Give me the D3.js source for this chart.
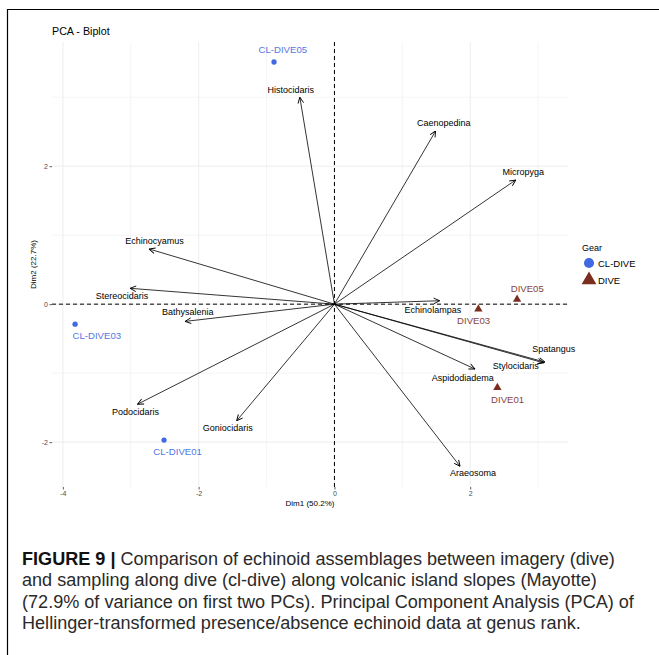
<!DOCTYPE html>
<html><head><meta charset="utf-8">
<script src="https://cdn.jsdelivr.net/npm/d3@7"></script>
<style>body{margin:0;background:#fff}svg{display:block}</style>
</head><body><svg id="c" width="659" height="655"></svg>
<script>
// ---- data ----
const variables = ["Histocidaris","Caenopedina","Micropyga","Echinocyamus","Stereocidaris","Bathysalenia","Podocidaris","Goniocidaris","Echinolampas","Spatangus","Stylocidaris","Aspidodiadema","Araeosoma"];
const varDim1 = [-0.51, 1.49, 2.67, -2.73, -3.01, -2.20, -2.90, -1.44, 1.55, 3.10, 3.08, 2.07, 1.85];
const varDim2 = [3.00, 2.51, 1.80, 0.80, 0.23, -0.25, -1.45, -1.69, 0.05, -0.84, -0.85, -0.94, -2.35];
const varLabelDim1 = [-0.645, 1.61, 2.78, -2.65, -3.13, -2.16, -2.93, -1.57, 1.45, 3.23, 2.67, 1.89, 2.04];
const varLabelDim2 = [3.10, 2.62, 1.91, 0.92, 0.12, -0.12, -1.57, -1.79, -0.08, -0.65, -0.89, -1.07, -2.45];

const sites = ["CL-DIVE05","CL-DIVE03","CL-DIVE01","DIVE05","DIVE03","DIVE01"];
const siteGear = ["CL-DIVE","CL-DIVE","CL-DIVE","DIVE","DIVE","DIVE"];
const siteDim1 = [-0.89, -3.82, -2.51, 2.69, 2.12, 2.40];
const siteDim2 = [3.51, -0.29, -1.97, 0.07, -0.07, -1.21];
const siteLabelDim1 = [-0.76, -3.50, -2.31, 2.84, 2.05, 2.55];
const siteLabelDim2 = [3.69, -0.46, -2.14, 0.23, -0.24, -1.38];

const gears = ["CL-DIVE","DIVE"];
const xTicks = [-4, -2, 0, 2];
const yTicks = [-2, 0, 2];
const xMinor = [-3, -1, 1, 3];
const yMinor = [-1, 1, 3];
const captionLines = [
  ["FIGURE 9 | ", "Comparison of echinoid assemblages between imagery (dive)"],
  ["", "and sampling along dive (cl-dive) along volcanic island slopes (Mayotte)"],
  ["", "(72.9% of variance on first two PCs). Principal Component Analysis (PCA) of"],
  ["", "Hellinger-transformed presence/absence echinoid data at genus rank."]
];

// ---- drawing ----
const svg = d3.select("#c");
const F = "'Liberation Sans', Arial, Helvetica, sans-serif";
const L = 52, R = 568, T = 42, B = 487;
const x = d3.scaleLinear().domain([-4.16, 3.44]).range([L, R]);
const y = d3.scaleLinear().domain([-2.65, 3.80]).range([B, T]);
const color = d3.scaleOrdinal().domain(gears).range(["#4169E1", "#7B2E1F"]);
const shape = d3.scaleOrdinal().domain(gears).range([d3.symbolCircle, d3.symbolTriangle]);

// border
svg.append("path").attr("d", "M7.5,660 V9.5 H670").attr("fill", "none").attr("stroke", "#000").attr("stroke-width", 1.2);

// grid
const g = svg.append("g");
g.selectAll(".vmin").data(xMinor).join("line").attr("x1", d => x(d)).attr("x2", d => x(d)).attr("y1", T).attr("y2", B).attr("stroke", "#efefef").attr("stroke-width", 0.6);
g.selectAll(".hmin").data(yMinor).join("line").attr("x1", L).attr("x2", R).attr("y1", d => y(d)).attr("y2", d => y(d)).attr("stroke", "#efefef").attr("stroke-width", 0.6);
g.selectAll(".vmaj").data(xTicks).join("line").attr("x1", d => x(d)).attr("x2", d => x(d)).attr("y1", T).attr("y2", B).attr("stroke", "#ebebeb").attr("stroke-width", 0.9);
g.selectAll(".hmaj").data(yTicks).join("line").attr("x1", L).attr("x2", R).attr("y1", d => y(d)).attr("y2", d => y(d)).attr("stroke", "#ebebeb").attr("stroke-width", 0.9);

// axes
const xAxis = d3.axisBottom(x).tickValues(xTicks).tickSize(2.5).tickPadding(1.5).tickFormat(d3.format("d"));
const yAxis = d3.axisLeft(y).tickValues(yTicks).tickSize(2.5).tickPadding(1.5).tickFormat(d3.format("d"));
const gx = svg.append("g").attr("transform", `translate(0,${B})`).call(xAxis);
const gy = svg.append("g").attr("transform", `translate(${L},0)`).call(yAxis);
[gx, gy].forEach(a => {
  a.select(".domain").remove();
  a.selectAll(".tick line").attr("stroke", "#333").attr("stroke-width", 0.8);
  a.selectAll(".tick text").attr("fill", "#4d4d4d").style("font-family", F).style("font-size", "7px");
});
gx.selectAll(".tick text").text(d => d < 0 ? "-" + Math.abs(d) : d);
gy.selectAll(".tick text").text(d => d < 0 ? "-" + Math.abs(d) : d);

// dashed zero lines
svg.append("line").attr("x1", x(0)).attr("x2", x(0)).attr("y1", T).attr("y2", B).attr("stroke", "#000").attr("stroke-width", 1).attr("stroke-dasharray", "4,3");
svg.append("line").attr("x1", L).attr("x2", R).attr("y1", y(0)).attr("y2", y(0)).attr("stroke", "#000").attr("stroke-width", 1).attr("stroke-dasharray", "4,3");

// arrow marker
svg.append("defs").append("marker").attr("id", "ah").attr("viewBox", "0 0 10 10").attr("refX", 9.5).attr("refY", 5)
  .attr("markerWidth", 7).attr("markerHeight", 7).attr("markerUnits", "userSpaceOnUse").attr("orient", "auto")
  .append("path").attr("d", "M1,1 L9.5,5 L1,9").attr("fill", "none").attr("stroke", "#000").attr("stroke-width", 1.3);

const vars = variables.map((n, i) => ({n, x: varDim1[i], y: varDim2[i], lx: varLabelDim1[i], ly: varLabelDim2[i]}));
svg.append("g").selectAll("line").data(vars).join("line")
  .attr("x1", x(0)).attr("y1", y(0)).attr("x2", d => x(d.x)).attr("y2", d => y(d.y))
  .attr("stroke", "#000").attr("stroke-width", 0.8).attr("marker-end", "url(#ah)");
svg.append("g").selectAll("text").data(vars).join("text")
  .attr("x", d => x(d.lx)).attr("y", d => y(d.ly)).attr("text-anchor", "middle").attr("dominant-baseline", "central")
  .style("font-family", F).style("font-size", "9px").attr("fill", "#000").text(d => d.n);

// sites
const pts = sites.map((n, i) => ({n, gear: siteGear[i], x: siteDim1[i], y: siteDim2[i], lx: siteLabelDim1[i], ly: siteLabelDim2[i]}));
svg.append("g").selectAll("path").data(pts).join("path")
  .attr("transform", d => `translate(${x(d.x)},${y(d.y)})`)
  .attr("d", d => d3.symbol().type(shape(d.gear)).size(d.gear === "DIVE" ? 30 : 22)())
  .attr("fill", d => color(d.gear));
svg.append("g").selectAll("text").data(pts).join("text")
  .attr("x", d => x(d.lx)).attr("y", d => y(d.ly)).attr("text-anchor", "middle").attr("dominant-baseline", "central")
  .style("font-family", F).style("font-size", "9.6px").attr("fill", d => color(d.gear)).attr("opacity", 0.9).text(d => d.n);

// title
svg.append("text").attr("x", 52).attr("y", 31).attr("dominant-baseline", "central").style("font-family", F).style("font-size", "10.7px").text("PCA - Biplot");

// axis titles
svg.append("text").attr("x", (L + R) / 2).attr("y", 503).attr("text-anchor", "middle").attr("dominant-baseline", "central").style("font-family", F).style("font-size", "8px").text("Dim1 (50.2%)");
svg.append("text").attr("transform", `translate(33,${(T + B) / 2}) rotate(-90)`).attr("text-anchor", "middle").attr("dominant-baseline", "central").style("font-family", F).style("font-size", "8px").text("Dim2 (22.7%)");

// legend
const lg = svg.append("g");
lg.append("text").attr("x", 582).attr("y", 248).attr("dominant-baseline", "central").style("font-family", F).style("font-size", "9px").text("Gear");
lg.selectAll("path").data(gears).join("path")
  .attr("transform", (d, i) => `translate(589,${263 + i * 17})`)
  .attr("d", d => d3.symbol().type(shape(d)).size(d === "DIVE" ? 95 : 80)())
  .attr("fill", d => color(d));
lg.selectAll("text.l").data(gears).join("text").attr("class", "l")
  .attr("x", 598).attr("y", (d, i) => 263 + i * 17).attr("dominant-baseline", "central")
  .style("font-family", F).style("font-size", "9.5px").text(d => d);

// caption: natural widths, sized so the widest line spans ~612px
const capTexts = captionLines.map((ln, i) => {
  const t = svg.append("text").attr("x", 22).attr("y", 559 + i * 21.3).attr("dominant-baseline", "central")
    .style("font-family", F).style("font-size", "17px").attr("fill", "#2a2a2a");
  if (ln[0]) t.append("tspan").style("font-weight", "bold").attr("fill", "#111").text(ln[0]);
  t.append("tspan").text(ln[1]);
  return t;
});
const maxW = d3.max(capTexts, t => t.node().getComputedTextLength());
const fs = 17 * 612 / maxW;
capTexts.forEach(t => t.style("font-size", fs.toFixed(2) + "px"));
</script></body></html>
